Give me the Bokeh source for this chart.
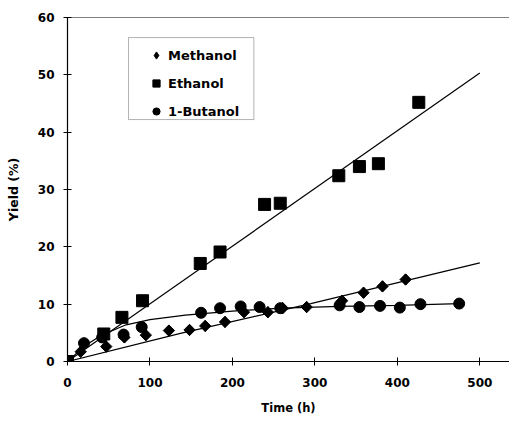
import math
from bokeh.plotting import figure
from bokeh.models import Range1d, FixedTicker, Span, Legend, LegendItem, BoxAnnotation
from bokeh.embed import file_html
from bokeh.resources import INLINE

# Data
time_methanol = [0, 16, 47, 69, 95, 123, 148, 167, 191, 214, 243, 261, 290, 333, 359, 382, 410]
yield_methanol = [0, 1.7, 2.6, 4.2, 4.6, 5.4, 5.5, 6.2, 6.9, 8.6, 8.6, 9.3, 9.5, 10.6, 12.0, 13.1, 14.3]

time_ethanol = [0, 44, 66, 91, 161, 185, 239, 258, 329, 354, 377, 426]
yield_ethanol = [0, 4.8, 7.7, 10.6, 17.1, 19.1, 27.4, 27.6, 32.4, 34.0, 34.5, 45.2]

time_butanol = [0, 20, 42, 68, 90, 162, 185, 210, 233, 258, 330, 354, 379, 403, 428, 475]
yield_butanol = [0, 3.2, 4.2, 4.7, 6.0, 8.5, 9.3, 9.6, 9.5, 9.3, 9.8, 9.5, 9.7, 9.4, 10.0, 10.1]

# Trend lines as drawn in the reference
fit_methanol_x = [0, 137, 295, 500]
fit_methanol_y = [0, 4.9, 10.1, 17.2]
fit_ethanol_x = [0, 500]
fit_ethanol_y = [0, 50.3]
fit_butanol_x = [0, 20, 40, 71, 100, 143, 200, 260, 330, 400, 475]
fit_butanol_y = [0, 2.6, 4.5, 6.4, 7.3, 8.1, 8.8, 9.3, 9.6, 9.8, 10.1]

x_ticks = [0, 100, 200, 300, 400, 500]
y_ticks = [0, 10, 20, 30, 40, 50, 60]

FONT = "DejaVu Sans"

p = figure(width=509, height=417, output_backend="svg", toolbar_location=None,
           x_range=Range1d(0, 536), y_range=Range1d(0, 60),
           min_border_left=67, min_border_right=0, min_border_top=17, min_border_bottom=56)
p.outline_line_color = None
p.xgrid.visible = False
p.ygrid.visible = False
p.background_fill_color = "white"
p.border_fill_color = "white"

for ax in (p.xaxis[0], p.yaxis[0]):
    ax.axis_line_color = "black"
    ax.axis_line_width = 1.2
    ax.major_tick_in = 4
    ax.major_tick_out = 4
    ax.major_tick_line_color = "black"
    ax.minor_tick_line_color = None
    ax.major_label_text_font = FONT
    ax.major_label_text_font_style = "bold"
    ax.major_label_text_font_size = "12px"
    ax.major_label_text_color = "black"
    ax.axis_label_text_font = FONT
    ax.axis_label_text_font_style = "bold"
    ax.axis_label_text_color = "black"

p.xaxis.axis_label_text_font_size = "11.5px"
p.yaxis.axis_label_text_font_size = "12.5px"
p.xaxis.ticker = FixedTicker(ticks=x_ticks)
p.yaxis.ticker = FixedTicker(ticks=y_ticks)
p.xaxis.axis_label = "Time (h)"
p.yaxis.axis_label = "Yield (%)"
p.xaxis.major_label_standoff = 12
p.yaxis.major_label_standoff = 9
p.xaxis.axis_label_standoff = 11
p.yaxis.axis_label_standoff = 14

p.add_layout(Span(location=60, dimension="width", line_color="black", line_width=1))

p.line(fit_ethanol_x, fit_ethanol_y, line_color="black", line_width=1.2)
p.line(fit_methanol_x, fit_methanol_y, line_color="black", line_width=1.2)
p.line(fit_butanol_x, fit_butanol_y, line_color="black", line_width=1.2)

# methanol: diamond glyph (used by the legend) covered by a rotated square for a fuller shape
r_m = p.scatter(time_methanol, yield_methanol, marker="diamond", size=11,
                fill_color="black", line_color="black")
p.scatter(time_methanol, yield_methanol, marker="square", size=8, angle=math.pi / 4,
          fill_color="black", line_color="black")
r_e = p.scatter(time_ethanol, yield_ethanol, marker="square", size=12,
                fill_color="black", line_color="black")
r_b = p.scatter(time_butanol, yield_butanol, marker="circle", size=11,
                fill_color="black", line_color="black")

p.add_layout(BoxAnnotation(left=74, right=226, bottom=42.2, top=56.5,
                           fill_color=None, line_color="black", line_width=1))

legend = Legend(items=[LegendItem(label="Methanol", renderers=[r_m]),
                       LegendItem(label="Ethanol", renderers=[r_e]),
                       LegendItem(label="1-Butanol", renderers=[r_b])],
                location=(80, 239), orientation="vertical",
                border_line_color=None, background_fill_alpha=0,
                padding=0, margin=0, spacing=6,
                glyph_width=18, glyph_height=22, label_height=22,
                label_standoff=3,
                label_text_font=FONT, label_text_font_style="bold",
                label_text_font_size="13px", label_text_color="black")
p.add_layout(legend)

open("out.html", "w").write(file_html(p, INLINE))
